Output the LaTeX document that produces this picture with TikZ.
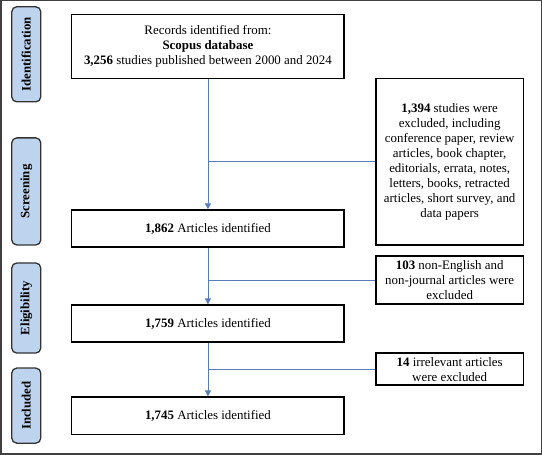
\documentclass[tikz,border=0pt]{standalone}
\usepackage{fontspec}
\setmainfont{Liberation Serif}
\usetikzlibrary{arrows.meta}
\definecolor{stagefill}{HTML}{BDD3EE}
\definecolor{flowblue}{HTML}{5A7DB5}

\begin{document}
\begin{tikzpicture}[x=1pt,y=-1pt,
  box/.style={draw=black,line width=1.3pt,align=center,inner sep=2pt,
    font=\fontsize{12.9}{15}\selectfont},
  stage/.style={draw=black!80,fill=stagefill,line width=1.3pt,rounded corners=5pt,
    minimum width=29pt,font=\fontsize{12.8}{14}\selectfont\bfseries},
  flow/.style={draw=flowblue,line width=0.8pt,-{Triangle[length=6pt,width=6pt]}},
  branch/.style={draw=flowblue,line width=0.8pt}]
\draw [black!75,line width=1.5pt] (1,1) rectangle (541,454);

\node [stage,minimum height=95pt]  (ident) at (26.5,54.5)  {\rotatebox{90}{Identification}};
\node [stage,minimum height=107pt] (scree) at (26.5,191.5) {\rotatebox{90}{Screening}};
\node [stage,minimum height=90pt]  (eligi) at (26.5,308)   {\rotatebox{90}{Eligibility}};
\node [stage,minimum height=75pt]  (inclu) at (26.5,405.5) {\rotatebox{90}{Included}};

\node [box,minimum width=272pt,minimum height=64pt] (rec) at (208,47)
  {Records identified from:\\ \textbf{Scopus database}\\ \textbf{3,256} studies published between 2000 and 2024};
\node [box,minimum width=272pt,minimum height=37pt] (art1) at (208,228.5) {\textbf{1,862} Articles identified};
\node [box,minimum width=272pt,minimum height=37pt] (art2) at (208,323.5) {\textbf{1,759} Articles identified};
\node [box,minimum width=272pt,minimum height=37pt] (art3) at (208,415.5) {\textbf{1,745} Articles identified};

\node [box,minimum width=147pt,minimum height=166pt] (exc1) at (449.5,162)
  {\textbf{1,394} studies were\\ excluded, including\\ conference paper, review\\ articles, book chapter,\\ editorials, errata, notes,\\ letters, books, retracted\\ articles, short survey, and\\ data papers};
\node [box,minimum width=147pt,minimum height=48pt] (exc2) at (449.5,280)
  {\textbf{103} non-English and\\ non-journal articles were\\ excluded};
\node [box,minimum width=147pt,minimum height=32pt] (exc3) at (449.5,369)
  {\textbf{14} irrelevant articles\\ were excluded};

\draw [flow] (rec.south) -- (art1.north);
\draw [flow] (art1.south) -- (art2.north);
\draw [flow] (art2.south) -- (art3.north);
\draw [branch] (rec.south |- exc1.west) -- (exc1.west);
\draw [branch] (art1.south |- exc2.west) -- (exc2.west);
\draw [branch] (art2.south |- exc3.west) -- (exc3.west);
\end{tikzpicture}
\end{document}
